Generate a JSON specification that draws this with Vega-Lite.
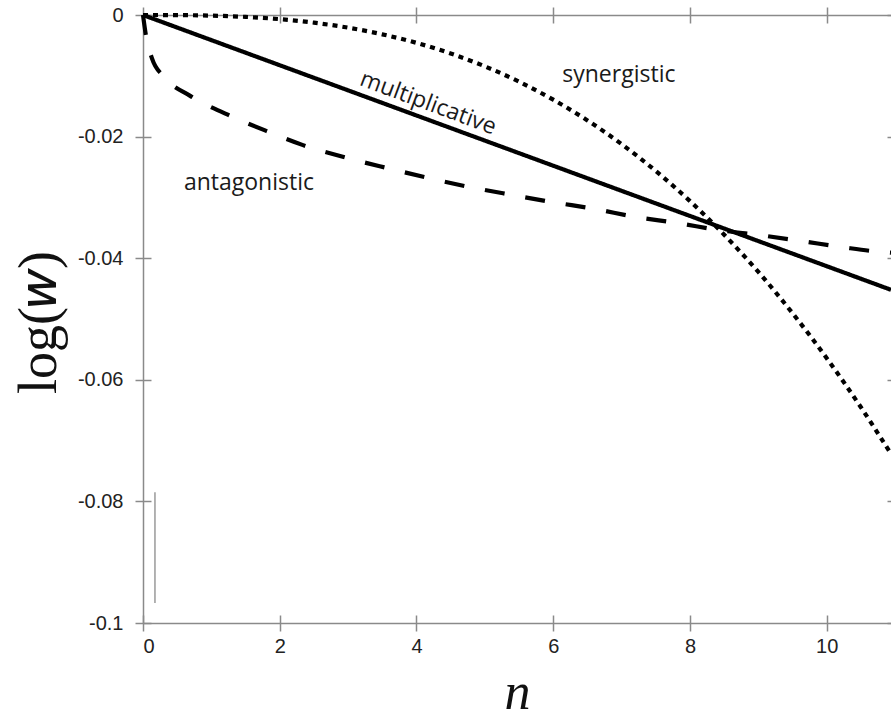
{
  "$schema": "https://vega.github.io/schema/vega-lite/v6.json",
  "width": 748,
  "height": 608,
  "autosize": "none",
  "padding": {"left": 143, "top": 15, "right": 0, "bottom": 96},
  "background": "white",
  "config": {"view": {"stroke": null}},
  "datasets": {
    "curves": [
      {"series": "multiplicative", "n": 0, "logw": 0},
      {"series": "multiplicative", "n": 10.94, "logw": -0.0452},
      {"series": "antagonistic", "n": 0, "logw": 0},
      {"series": "antagonistic", "n": 0.044, "logw": -0.00345},
      {"series": "antagonistic", "n": 0.13, "logw": -0.0071},
      {"series": "antagonistic", "n": 0.31, "logw": -0.0102},
      {"series": "antagonistic", "n": 0.69, "logw": -0.0133},
      {"series": "antagonistic", "n": 1.24, "logw": -0.0164},
      {"series": "antagonistic", "n": 1.81, "logw": -0.0191},
      {"series": "antagonistic", "n": 2.34, "logw": -0.0214},
      {"series": "antagonistic", "n": 2.98, "logw": -0.0235},
      {"series": "antagonistic", "n": 3.58, "logw": -0.0252},
      {"series": "antagonistic", "n": 4.17, "logw": -0.0268},
      {"series": "antagonistic", "n": 4.78, "logw": -0.0283},
      {"series": "antagonistic", "n": 5.40, "logw": -0.0296},
      {"series": "antagonistic", "n": 6.00, "logw": -0.0308},
      {"series": "antagonistic", "n": 6.61, "logw": -0.0319},
      {"series": "antagonistic", "n": 7.20, "logw": -0.0332},
      {"series": "antagonistic", "n": 7.81, "logw": -0.0342},
      {"series": "antagonistic", "n": 8.44, "logw": -0.0354},
      {"series": "antagonistic", "n": 9.02, "logw": -0.0362},
      {"series": "antagonistic", "n": 9.64, "logw": -0.0372},
      {"series": "antagonistic", "n": 10.24, "logw": -0.0382},
      {"series": "antagonistic", "n": 10.82, "logw": -0.0390},
      {"series": "antagonistic", "n": 10.94, "logw": -0.0391},
      {"series": "synergistic", "n": 0, "logw": 0},
      {"series": "synergistic", "n": 0.5, "logw": -0.000015},
      {"series": "synergistic", "n": 1, "logw": -0.000103},
      {"series": "synergistic", "n": 1.5, "logw": -0.000312},
      {"series": "synergistic", "n": 2, "logw": -0.000686},
      {"series": "synergistic", "n": 2.5, "logw": -0.001264},
      {"series": "synergistic", "n": 3, "logw": -0.002084},
      {"series": "synergistic", "n": 3.5, "logw": -0.00318},
      {"series": "synergistic", "n": 4, "logw": -0.004584},
      {"series": "synergistic", "n": 4.5, "logw": -0.00633},
      {"series": "synergistic", "n": 5, "logw": -0.00845},
      {"series": "synergistic", "n": 5.5, "logw": -0.01097},
      {"series": "synergistic", "n": 6, "logw": -0.01393},
      {"series": "synergistic", "n": 6.5, "logw": -0.01734},
      {"series": "synergistic", "n": 7, "logw": -0.02124},
      {"series": "synergistic", "n": 7.5, "logw": -0.02566},
      {"series": "synergistic", "n": 8, "logw": -0.03061},
      {"series": "synergistic", "n": 8.5, "logw": -0.03614},
      {"series": "synergistic", "n": 9, "logw": -0.04226},
      {"series": "synergistic", "n": 9.5, "logw": -0.04905},
      {"series": "synergistic", "n": 10, "logw": -0.05645},
      {"series": "synergistic", "n": 10.5, "logw": -0.06452},
      {"series": "synergistic", "n": 10.94, "logw": -0.07219}
    ],
    "labels": [
      {"label": "synergistic", "n": 6.96, "logw": -0.0110},
      {"label": "antagonistic", "n": 1.55, "logw": -0.0288}
    ],
    "mlabel": [
      {"label": "multiplicative", "n": 4.17, "logw": -0.0145}
    ],
    "marker": [
      {"n": 0.175, "y1": -0.0785, "y2": -0.0967}
    ]
  },
  "layer": [
    {
      "data": {"name": "curves"},
      "mark": {"type": "line", "color": "black", "strokeCap": "butt", "interpolate": "monotone"},
      "encoding": {
        "x": {
          "field": "n", "type": "quantitative",
          "scale": {"domain": [0, 10.94], "nice": false, "zero": false},
          "axis": {
            "orient": "bottom", "values": [0, 2, 4, 6, 8, 10], "grid": false,
            "domainColor": "#8a8a8a", "domainWidth": 1.5, "tickColor": "#8a8a8a", "tickWidth": 1.5, "tickSize": 8,
            "labelFont": "Liberation Sans", "labelFontSize": 20, "labelColor": "#222222", "labelPadding": 5,
            "title": "n", "titleFont": "Liberation Serif", "titleFontStyle": "italic", "titleFontWeight": "normal",
            "titleFontSize": 52, "titleColor": "#111", "titleX": 374, "titleY": 96, "titleBaseline": "bottom", "titleAlign": "center"
          }
        },
        "y": {
          "field": "logw", "type": "quantitative",
          "scale": {"domain": [-0.1, 0], "nice": false, "zero": false},
          "axis": {
            "orient": "left", "values": [-0.1, -0.08, -0.06, -0.04, -0.02, 0], "grid": false,
            "domainColor": "#8a8a8a", "domainWidth": 1.5, "tickColor": "#8a8a8a", "tickWidth": 1.5, "tickSize": 8,
            "labelFont": "Liberation Sans", "labelFontSize": 20, "labelColor": "#222222", "labelPadding": 12,
            "labelExpr": "datum.value == 0 ? '0' : '-' + format(-datum.value, '~g')",
            "title": "log(𝑤)", "titleFont": "Liberation Serif", "titleFontWeight": "normal",
            "titleFontSize": 54, "titleColor": "#111", "titleX": -104, "titleY": 307, "titleAngle": -90,
            "titleBaseline": "middle", "titleAlign": "center"
          }
        },
        "strokeDash": {
          "field": "series", "type": "nominal",
          "scale": {"domain": ["multiplicative", "antagonistic", "synergistic"], "range": [[1, 0], [20, 21], [5, 5]]},
          "legend": null
        },
        "strokeWidth": {
          "field": "series", "type": "nominal",
          "scale": {"domain": ["multiplicative", "antagonistic", "synergistic"], "range": [4.2, 4.2, 5]},
          "legend": null
        }
      }
    },
    {
      "data": {"name": "marker"},
      "mark": {"type": "rule", "color": "#8a8a8a", "strokeWidth": 1.3},
      "encoding": {
        "x": {
          "field": "n", "type": "quantitative",
          "axis": {"orient": "bottom", "offset": -8, "values": [0, 2, 4, 6, 8, 10], "grid": false, "domain": false, "labels": false,
                   "tickColor": "#8a8a8a", "tickWidth": 1.5, "tickSize": 8, "title": null}
        },
        "y": {
          "field": "y1", "type": "quantitative",
          "axis": {"orient": "left", "offset": -8, "values": [-0.1, -0.08, -0.06, -0.04, -0.02, 0], "grid": false, "domain": false, "labels": false,
                   "tickColor": "#8a8a8a", "tickWidth": 1.5, "tickSize": 8, "title": null}
        },
        "y2": {"field": "y2"}
      }
    },
    {
      "data": {"name": "labels"},
      "mark": {"type": "text", "font": "Open Sans", "fontSize": 23, "color": "#1a1a1a", "align": "center", "baseline": "alphabetic"},
      "encoding": {
        "x": {
          "field": "n", "type": "quantitative",
          "axis": {"orient": "top", "values": [0, 2, 4, 6, 8, 10], "grid": false, "labels": false,
                   "domainColor": "#8a8a8a", "domainWidth": 1.5, "tickColor": "#8a8a8a", "tickWidth": 1.5, "tickSize": 8, "title": null}
        },
        "y": {
          "field": "logw", "type": "quantitative",
          "axis": {"orient": "right", "values": [-0.1, -0.08, -0.06, -0.04, -0.02, 0], "grid": false, "labels": false, "domain": false,
                   "tickColor": "#8a8a8a", "tickWidth": 1.5, "tickSize": 8, "title": null}
        },
        "text": {"field": "label"}
      }
    },
    {
      "data": {"name": "mlabel"},
      "mark": {"type": "text", "font": "Open Sans", "fontSize": 23, "color": "#1a1a1a", "align": "center", "baseline": "middle", "angle": 20.4},
      "encoding": {
        "x": {
          "field": "n", "type": "quantitative",
          "axis": {"orient": "top", "offset": -8, "values": [0, 2, 4, 6, 8, 10], "grid": false, "domain": false, "labels": false,
                   "tickColor": "#8a8a8a", "tickWidth": 1.5, "tickSize": 8, "title": null}
        },
        "y": {
          "field": "logw", "type": "quantitative",
          "axis": {"orient": "right", "offset": -4, "values": [-0.1, -0.08, -0.06, -0.04, -0.02, 0], "grid": false, "domain": false, "labels": false,
                   "tickColor": "#8a8a8a", "tickWidth": 1.5, "tickSize": 4, "title": null}
        },
        "text": {"field": "label"}
      }
    }
  ],
  "resolve": {"axis": {"x": "independent", "y": "independent"}}
}
